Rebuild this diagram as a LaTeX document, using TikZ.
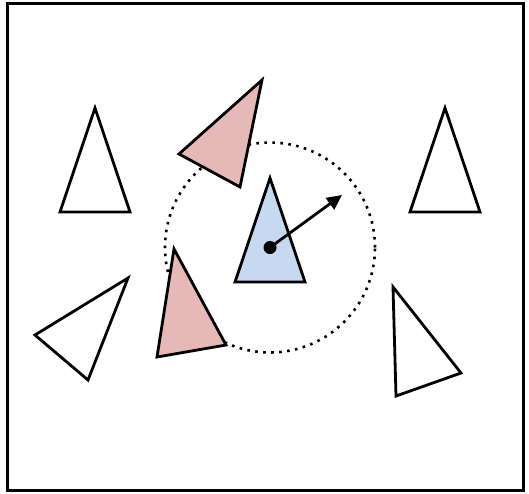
\documentclass[tikz,border=0pt]{standalone}
\usetikzlibrary{arrows.meta}
\definecolor{tblue}{HTML}{C6D9F1}
\definecolor{tpink}{HTML}{E6B9B8}
\begin{document}
\begin{tikzpicture}[x=1pt,y=-1pt,
  tri/.style={draw=black,line width=2.8pt,line join=miter},
  plain/.style={tri,fill=white},
  bluetri/.style={tri,fill=tblue},
  pinktri/.style={tri,fill=tpink}]
\useasboundingbox (0,0) rectangle (529,493);
\node[draw,line width=2.8pt,minimum width=516pt,minimum height=487pt,inner sep=0pt] (frame) at (265.2,247.3) {};
\node[draw,circle,line width=2.6pt,dash pattern=on 2.6pt off 5.4pt,minimum size=210pt,inner sep=0pt] (range) at (270,247.5) {};
\draw[plain] (95,108) -- (130,212) -- (60,212) -- cycle;
\draw[plain] (445,108) -- (480,212) -- (410,212) -- cycle;
\draw[bluetri] (270,178) -- (305,282) -- (235,282) -- cycle;
\draw[pinktri] (262,80) -- (240,187) -- (179,154) -- cycle;
\draw[pinktri] (174,249) -- (226,345) -- (157,357) -- cycle;
\draw[plain] (128,278) -- (88,380) -- (35,335) -- cycle;
\draw[plain] (393,287) -- (461,373) -- (396,396) -- cycle;
\node[circle,fill=black,minimum size=13pt,inner sep=0pt] (agent) at (270,247.5) {};
\coordinate (head) at (342,195);
\draw[line width=2.8pt,-{Triangle[length=15pt,width=14pt]}] (agent.center) -- (head);
\end{tikzpicture}
\end{document}
